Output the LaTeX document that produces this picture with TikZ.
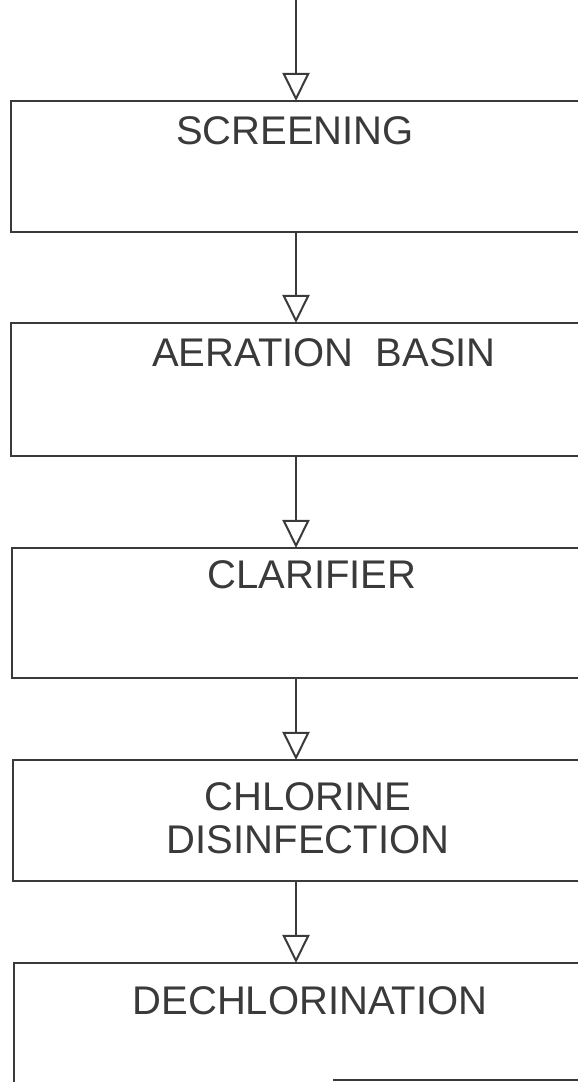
\documentclass[tikz,border=0pt]{standalone}
\usepackage{fontspec}
\setmainfont{Liberation Sans}
\usetikzlibrary{arrows.meta}
\definecolor{ink}{HTML}{3A3A3A}
\tikzset{
  box/.style={draw=ink, line width=2.5pt, rectangle, inner sep=0pt, outer sep=0pt, anchor=north west},
  lbl/.style={text=ink, font=\fontsize{40}{43}\selectfont, align=center, inner sep=0pt},
  flow/.style={draw=ink, line width=2.2pt, -{Triangle[open, length=28pt, width=27pt, line width=2pt]}, shorten >=0pt}
}
\begin{document}
\begin{tikzpicture}[x=1pt,y=1pt]
\useasboundingbox (0,0) rectangle (578,1082);
\clip (0,0) rectangle (578,1082);
% boxes
\node[box, minimum width=620pt, minimum height=131pt] (b1) at (11,981) {};
\node[box, minimum width=620pt, minimum height=133pt] (b2) at (11,759) {};
\node[box, minimum width=620pt, minimum height=130pt] (b3) at (12,534) {};
\node[box, minimum width=620pt, minimum height=121pt] (b4) at (13,322) {};
\node[box, minimum width=620pt, minimum height=140pt] (b5) at (14,119) {};
% labels
\node[lbl] (t1) at (295,951) {SCREENING};
\node[lbl] (t2) at (324,729) {AERATION\ \ BASIN};
\node[lbl] (t3) at (312,507) {CLARIFIER};
\node[lbl] (t4) at (308,264) {CHLORINE\\DISINFECTION};
\node[lbl] (t5) at (310,81) {DECHLORINATION};
% flow axis
\coordinate (in) at (296,1082);
\coordinate (ax) at (296,0);
\draw[flow] (in) -- (b1.north -| ax);
\draw[flow] (b1.south -| ax) -- (b2.north -| ax);
\draw[flow] (b2.south -| ax) -- (b3.north -| ax);
\draw[flow] (b3.south -| ax) -- (b4.north -| ax);
\draw[flow] (b4.south -| ax) -- (b5.north -| ax);
% visible piece of lower edge
\coordinate (e1) at (333,2);
\coordinate (e2) at (578,2);
\draw[draw=ink, line width=2pt] (e1) -- (e2);
\end{tikzpicture}
\end{document}
